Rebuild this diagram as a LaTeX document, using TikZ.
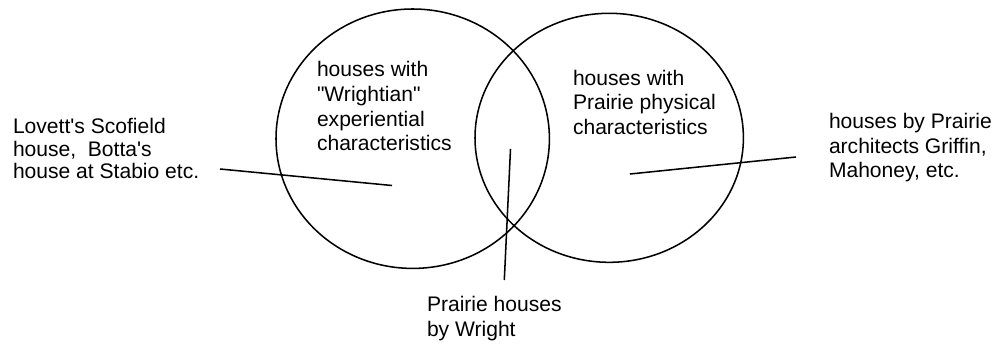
\documentclass[tikz,border=0pt]{standalone}
\usepackage{fontspec}
\setmainfont{Liberation Sans}[Ligatures=TeXOff]
\begin{document}
\begin{tikzpicture}[x=0.75pt,y=-0.75pt,
  setcircle/.style={draw=black,line width=1.15pt,fill=none},
  pointer/.style={draw=black,line width=1.15pt},
  lbl/.style={anchor=north west,inner sep=0pt,outer sep=0pt,align=left,
    font=\fontsize{15.8}{18.4}\selectfont},
  lbltight/.style={lbl,font=\fontsize{15.8}{16.7}\selectfont}]
\useasboundingbox (0,0) rectangle (994,343);
% circles
\draw[setcircle] (412.7,138.7) ellipse [x radius=136.7, y radius=129.7];
\draw[setcircle] (609.2,137.8) ellipse [x radius=134.2, y radius=124.5];
% labels
\node[lbltight] (lovett) at (13,118.5) {Lovett's Scofield\\house,\ \ Botta's\\house at Stabio etc.};
\node[lbl] (wrightian) at (317,61.7) {houses with\\"Wrightian"\\experiential\\characteristics};
\node[lbl] (physical) at (573,70) {houses with\\Prairie physical\\characteristics};
\node[lbl] (griffin) at (829,113.3) {houses by Prairie\\architects Griffin,\\Mahoney, etc.};
\node[lbl] (wright) at (427,296.7) {Prairie houses\\by Wright};
% connector end points
\coordinate (lovettend) at (220,169);
\coordinate (lovettin) at (392,185.5);
\coordinate (wrightend) at (504.3,280);
\coordinate (wrightin) at (510.5,149);
\coordinate (griffinend) at (796,157);
\coordinate (griffinin) at (630,174);
\draw[pointer] (lovettend) -- (lovettin);
\draw[pointer] (wrightend) -- (wrightin);
\draw[pointer] (griffinend) -- (griffinin);
\end{tikzpicture}
\end{document}
